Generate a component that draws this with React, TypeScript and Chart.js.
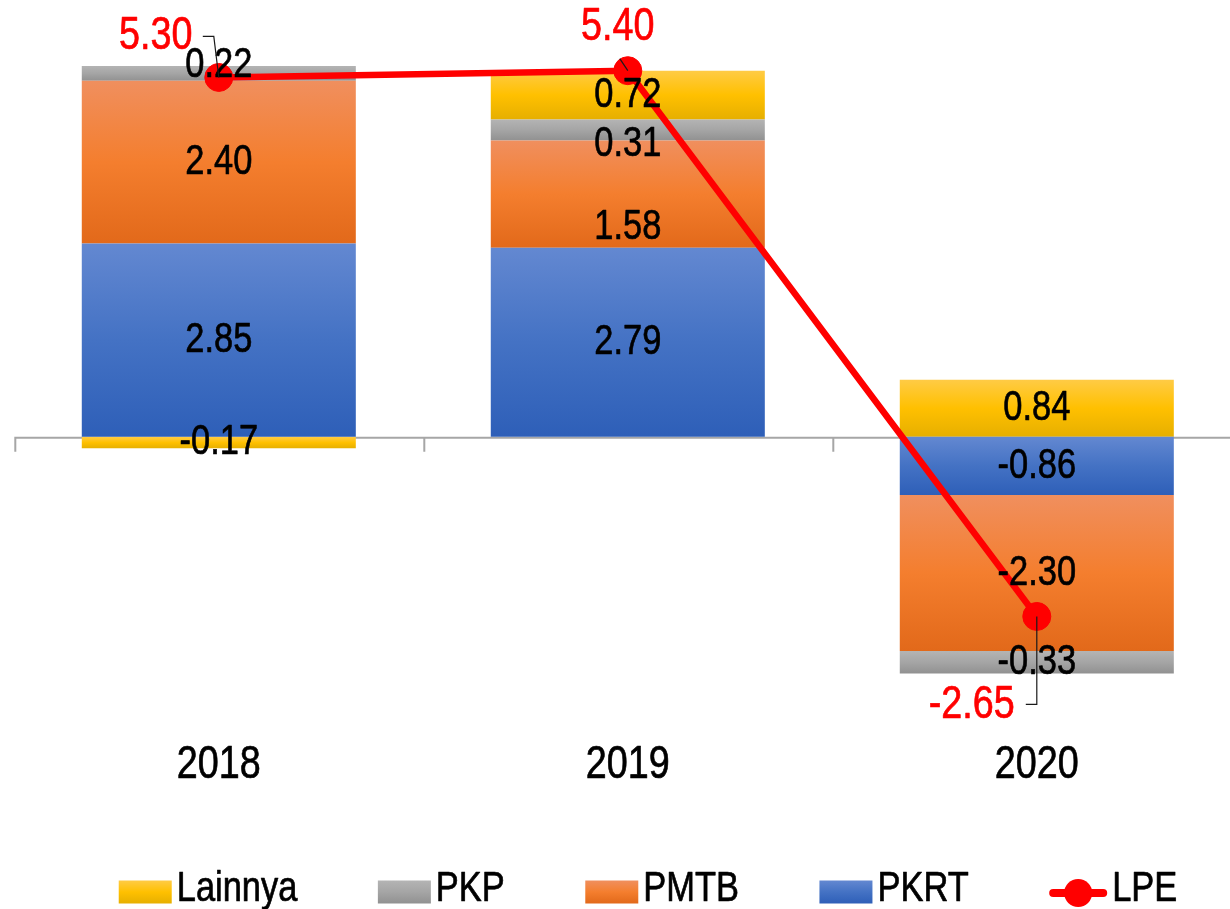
import React, { useEffect, useRef } from "react";
import { Chart, registerables } from "chart.js";

Chart.register(...registerables);

// ---------- data ----------
const categories = ["2018", "2019", "2020"];
const pkrtValues = [2.85, 2.79, -0.86];
const pmtbValues = [2.4, 1.58, -2.3];
const pkpValues = [0.22, 0.31, -0.33];
const lainnyaValues = [-0.17, 0.72, 0.84];
const lpeValues = [5.3, 5.4, -2.65];
const legendOrder = ["Lainnya", "PKP", "PMTB", "PKRT", "LPE"];

// ---------- styles ----------
const BASE_FONT = "'Liberation Sans', Arial, sans-serif";
const NARROW = 0.82; // horizontal compression to mimic Arial Narrow
const BAR_LABEL_SIZE = 42;
const LINE_LABEL_SIZE = 46;
const AXIS_LABEL_SIZE = 46;
const LEGEND_SIZE = 42;
const LEGEND_CENTER_X = 648;
const LEGEND_Y = 889;
const LEGEND_GAP = 80.5;

const barStyles: Record<string, string[]> = {
  PKRT: ["#6388D1", "#4472C4", "#2E5FB8"],
  PMTB: ["#F08F5E", "#F47E2E", "#E2691A"],
  PKP: ["#B4B4B4", "#A5A5A5", "#919191"],
  Lainnya: ["#FFCB45", "#FFC000", "#E6AF00"],
};

// manual label nudges (px), like the moved labels in the original
const barLabelNudges: Record<string, number[]> = {
  PKRT: [0, 0, 0],
  PMTB: [0, 33, 0],
  PKP: [-8, 14, 0],
  Lainnya: [0, 0, 0],
};
// LPE label placement relative to its point, with leader polyline
const lpeLabelPlacement = [
  { dx: -63, dy: -41, leader: [[-16, -41], [-5, -41], [0, 0]] },
  { dx: -10, dy: -43, leader: [[-8, -12], [0, 0]] },
  { dx: -65, dy: 89, leader: [[0, 0], [0, 88], [-11, 88]] },
];

const barSeries = [
  { label: "PKRT", data: pkrtValues },
  { label: "PMTB", data: pmtbValues },
  { label: "PKP", data: pkpValues },
  { label: "Lainnya", data: lainnyaValues },
];

function stackSpan(k: number, i: number): [number, number] {
  const v = barSeries[k].data[i];
  let base = 0;
  for (let j = 0; j < k; j++) {
    const o = barSeries[j].data[i];
    if (Math.sign(o) === Math.sign(v)) base += o;
  }
  return [base, base + v];
}

function gradientFor(k: number) {
  const stops = barStyles[barSeries[k].label];
  return (ctx: any) => {
    const chart = ctx.chart;
    const y = chart.scales && chart.scales.y;
    if (!y || ctx.dataIndex === undefined) return stops[1];
    const [s, e] = stackSpan(k, ctx.dataIndex);
    const top = y.getPixelForValue(Math.max(s, e));
    const bottom = y.getPixelForValue(Math.min(s, e));
    if (!isFinite(top) || !isFinite(bottom) || top === bottom) return stops[1];
    const g = chart.ctx.createLinearGradient(0, top, 0, bottom);
    g.addColorStop(0, stops[0]);
    g.addColorStop(0.5, stops[1]);
    g.addColorStop(1, stops[2]);
    return g;
  };
}

function drawNarrowText(
  ctx: CanvasRenderingContext2D,
  text: string,
  x: number,
  y: number,
  size: number,
  color: string,
  align: CanvasTextAlign
) {
  ctx.save();
  ctx.translate(x, y);
  ctx.scale(NARROW, 1);
  ctx.font = `${size}px ${BASE_FONT}`;
  ctx.fillStyle = color;
  ctx.strokeStyle = color;
  ctx.lineWidth = 0.7;
  ctx.lineJoin = "round";
  ctx.textAlign = align;
  ctx.textBaseline = "middle";
  ctx.fillText(text, 0, 0);
  ctx.strokeText(text, 0, 0);
  ctx.restore();
}

function narrowWidth(ctx: CanvasRenderingContext2D, text: string, size: number) {
  ctx.save();
  ctx.font = `${size}px ${BASE_FONT}`;
  const w = ctx.measureText(text).width * NARROW;
  ctx.restore();
  return w;
}

const zeroAxisPlugin = {
  id: "zeroAxis",
  beforeDatasetsDraw(chart: any) {
    const { ctx, chartArea, scales } = chart;
    const x = scales.x;
    const y = scales.y;
    const y0 = y.getPixelForValue(0) + 1;
    const step = x.getPixelForValue(1) - x.getPixelForValue(0);
    ctx.save();
    ctx.strokeStyle = "#A6A6A6";
    ctx.lineWidth = 2;
    ctx.beginPath();
    ctx.moveTo(chartArea.left, y0);
    ctx.lineTo(chartArea.right, y0);
    for (let i = 0; i <= categories.length; i++) {
      const px = x.getPixelForValue(0) + (i - 0.5) * step + 1;
      ctx.moveTo(px, y0);
      ctx.lineTo(px, y0 + 14);
    }
    ctx.stroke();
    ctx.restore();
  },
};

const valueLabelsPlugin = {
  id: "valueLabels",
  afterDatasetsDraw(chart: any) {
    const { ctx } = chart;
    // bar labels
    chart.data.datasets.forEach((ds: any, di: number) => {
      if (ds.type === "line") return;
      const meta = chart.getDatasetMeta(di);
      const nudges = barLabelNudges[ds.label] || [];
      meta.data.forEach((el: any, i: number) => {
        const v = ds.data[i] as number;
        const p = el.getProps(["x", "y", "base"], true);
        drawNarrowText(ctx, v.toFixed(2), p.x, (p.y + p.base) / 2 + (nudges[i] || 0), BAR_LABEL_SIZE, "#000000", "center");
      });
    });
    // line labels with leaders
    chart.data.datasets.forEach((ds: any, di: number) => {
      if (ds.type !== "line") return;
      const meta = chart.getDatasetMeta(di);
      ctx.save();
      ctx.strokeStyle = "#1A1A1A";
      ctx.lineWidth = 1.2;
      meta.data.forEach((el: any, i: number) => {
        const pl = lpeLabelPlacement[i];
        const p = el.getProps(["x", "y"], true);
        ctx.beginPath();
        pl.leader.forEach((pt, j) => {
          if (j === 0) ctx.moveTo(p.x + pt[0], p.y + pt[1]);
          else ctx.lineTo(p.x + pt[0], p.y + pt[1]);
        });
        ctx.stroke();
      });
      ctx.restore();
      meta.data.forEach((el: any, i: number) => {
        const pl = lpeLabelPlacement[i];
        const p = el.getProps(["x", "y"], true);
        const v = ds.data[i] as number;
        drawNarrowText(ctx, v.toFixed(2), p.x + pl.dx, p.y + pl.dy, LINE_LABEL_SIZE, "#FF0000", "center");
      });
    });
  },
};

const axisLabelsPlugin = {
  id: "axisLabels",
  afterDraw(chart: any) {
    const { ctx, chartArea, scales } = chart;
    categories.forEach((c, i) => {
      drawNarrowText(ctx, c, scales.x.getPixelForValue(i), chartArea.bottom + 57, AXIS_LABEL_SIZE, "#000000", "center");
    });
  },
};

const customLegendPlugin = {
  id: "customLegend",
  afterDraw(chart: any) {
    const ctx: CanvasRenderingContext2D = chart.ctx;
    const items = legendOrder.map((name) => ({
      name,
      sw: name === "LPE" ? 58 : 53,
      w: narrowWidth(ctx, name, LEGEND_SIZE),
    }));
    const total =
      items.reduce((a, it) => a + it.sw + 5 + it.w, 0) + LEGEND_GAP * (items.length - 1);
    let x = LEGEND_CENTER_X - total / 2;
    items.forEach((it) => {
      ctx.save();
      if (it.name === "LPE") {
        const yc = LEGEND_Y + 4;
        ctx.strokeStyle = "#FF0000";
        ctx.lineWidth = 8;
        ctx.lineCap = "round";
        ctx.beginPath();
        ctx.moveTo(x + 4, yc);
        ctx.lineTo(x + it.sw - 4, yc);
        ctx.stroke();
        ctx.fillStyle = "#FF0000";
        ctx.beginPath();
        ctx.arc(x + it.sw / 2, yc, 14, 0, Math.PI * 2);
        ctx.fill();
      } else {
        const stops = barStyles[it.name];
        const top = LEGEND_Y - 8.5;
        const g = ctx.createLinearGradient(0, top, 0, top + 23);
        g.addColorStop(0, stops[0]);
        g.addColorStop(0.5, stops[1]);
        g.addColorStop(1, stops[2]);
        ctx.fillStyle = g;
        ctx.fillRect(x, top, it.sw, 23);
      }
      ctx.restore();
      drawNarrowText(ctx, it.name, x + it.sw + 5, LEGEND_Y, LEGEND_SIZE, "#000000", "left");
      x += it.sw + 5 + it.w + LEGEND_GAP;
    });
  },
};

export default function App() {
  const ref = useRef<HTMLCanvasElement>(null);
  useEffect(() => {
    if (!ref.current) return;
    const datasets: any[] = [
      {
        type: "line",
        label: "LPE",
        data: lpeValues,
        borderColor: "#FF0000",
        backgroundColor: "#FF0000",
        borderWidth: 6.5,
        pointRadius: 14,
        pointBorderWidth: 1,
        pointBackgroundColor: "#FF0000",
        pointBorderColor: "#FF0000",
        tension: 0,
        fill: false,
      },
      ...barSeries.map((s, k) => ({
        type: "bar",
        label: s.label,
        data: s.data,
        backgroundColor: gradientFor(k),
        borderWidth: 0,
        barPercentage: 0.67,
        categoryPercentage: 1,
      })),
    ];
    const chart = new Chart(ref.current, {
      type: "bar",
      data: { labels: categories, datasets },
      options: {
        responsive: false,
        maintainAspectRatio: false,
        animation: false,
        events: [],
        layout: {
          autoPadding: false,
          padding: { top: 30, left: 14.3, right: 8.7, bottom: 201 },
        },
        scales: {
          x: {
            stacked: true,
            display: false,
          },
          y: {
            stacked: true,
            display: false,
            min: -4,
            max: 6,
          },
        },
        plugins: {
          tooltip: { enabled: false },
          legend: { display: false },
        },
      } as any,
      plugins: [zeroAxisPlugin, valueLabelsPlugin, axisLabelsPlugin, customLegendPlugin],
    });
    return () => chart.destroy();
  }, []);
  return (
    <div
      style={{
        position: "fixed",
        left: 0,
        top: 0,
        width: 1230,
        height: 909,
        overflow: "hidden",
        background: "#ffffff",
      }}
    >
      <canvas ref={ref} width={1250} height={909} style={{ display: "block" }} />
    </div>
  );
}
